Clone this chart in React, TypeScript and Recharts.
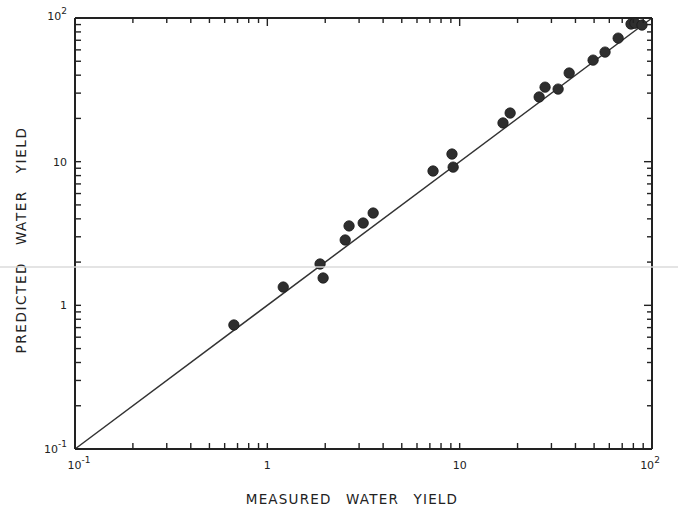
import React from 'react';
import {
  ScatterChart,
  Scatter,
  XAxis,
  YAxis,
  ReferenceLine,
} from 'recharts';

// Values
const measuredYield = [
  0.67, 1.21, 1.88, 1.95, 2.54, 2.66, 3.15, 3.55, 7.27, 9.12, 9.25,
  16.8, 18.3, 25.9, 27.8, 32.5, 37.1, 49.4, 57.0, 66.7, 77.8, 81.5, 88.7,
];
const predictedYield = [
  0.73, 1.34, 1.94, 1.55, 2.85, 3.57, 3.74, 4.39, 8.61, 11.3, 9.16,
  18.6, 21.8, 28.2, 33.0, 32.0, 41.4, 50.9, 57.9, 72.4, 90.8, 92.0, 89.3,
];

// major + minor tick positions (per decade)
const logTicks = [
  0.1, 0.2, 0.3, 0.4, 0.5, 0.6, 0.7, 0.8, 0.9,
  1, 2, 3, 4, 5, 6, 7, 8, 9,
  10, 20, 30, 40, 50, 60, 70, 80, 90,
  100,
];

const xTitle = 'MEASURED WATER YIELD';
const yTitle = 'PREDICTED WATER YIELD';

const data = measuredYield.map((m, i) => ({ x: m, y: predictedYield[i] }));

const W = 678;
const H = 509;
const MARGIN = { top: 17, right: 25, bottom: 0, left: 0 };
const LEFT_W = 75;
const BOTTOM_H = 60;
const TICK_IN = 6; // inward tick length on bottom/left

const INK = '#222';
const FONT = '"DejaVu Sans", "Liberation Sans", sans-serif';

const isDecade = (v: number) => {
  const l = Math.log10(v);
  return Math.abs(l - Math.round(l)) < 1e-6;
};

const tickLen = (v: number) => (isDecade(v) ? 8 : 5);

// decade label: 10^-1, 1, 10, 10^2
const DecadeLabel = ({ x, y, v, anchor }: any) => {
  const exp = Math.round(Math.log10(v));
  const style = { fontFamily: FONT, fontSize: 11, fill: INK };
  if (exp === 0 || exp === 1) {
    return (
      <text x={x} y={y} textAnchor={anchor} style={style}>
        {exp === 0 ? '1' : '10'}
      </text>
    );
  }
  return (
    <text x={x} y={y} textAnchor={anchor} style={style}>
      10
      <tspan dy={-6} fontSize={9}>{exp === -1 ? '-1' : '2'}</tspan>
    </text>
  );
};

// bottom axis: decade labels (tick lines come from tickLine)
const BottomTick = (props: any) => {
  const { x, y, payload } = props;
  if (!isDecade(payload.value)) return <g />;
  const lx = payload.value === 100 ? x - 2 : payload.value === 0.1 ? x + 4 : x;
  // y sits at the inner end of the inward tick
  return <DecadeLabel x={lx} y={y + TICK_IN + 20} v={payload.value} anchor="middle" />;
};

// left axis: decade labels (tick lines come from tickLine)
const LeftTick = (props: any) => {
  const { x, y, payload } = props;
  if (!isDecade(payload.value)) return <g />;
  const ly = payload.value === 100 ? y + 2 : y + 4;
  return <DecadeLabel x={x - TICK_IN - 8} y={ly} v={payload.value} anchor="end" />;
};

// top axis: inward ticks
const TopTick = (props: any) => {
  const { x, y, payload } = props;
  return <line x1={x} x2={x} y1={y} y2={y + tickLen(payload.value)} stroke={INK} strokeWidth={1.4} />;
};

// right axis: inward ticks
const RightTick = (props: any) => {
  const { x, y, payload } = props;
  return <line x1={x} x2={x - tickLen(payload.value)} y1={y} y2={y} stroke={INK} strokeWidth={1.4} />;
};

const Dot = (props: any) => {
  const { cx, cy } = props;
  return <circle cx={cx} cy={cy} r={5.2} fill="#2e2e2e" stroke="#1a1a1a" strokeWidth={0.8} />;
};

const NoDot = () => <g />;

const titleStyle = { fontFamily: FONT, fontSize: 13.5, fill: INK, letterSpacing: 1.2 };

export default function App() {
  return (
    <div style={{ position: 'absolute', left: 0, top: 0, width: W, height: H, background: '#fff' }}>
      <ScatterChart width={W} height={H} margin={MARGIN}>
        <XAxis
          xAxisId="b"
          dataKey="x"
          type="number"
          scale="log"
          domain={[0.1, 100]}
          ticks={logTicks}
          interval={0}
          tickSize={-TICK_IN}
          tickMargin={0}
          height={BOTTOM_H}
          tick={<BottomTick />}
          tickLine={{ stroke: INK, strokeWidth: 1.4 }}
          axisLine={{ stroke: INK, strokeWidth: 2 }}
        />
        <XAxis
          xAxisId="t"
          dataKey="x"
          orientation="top"
          type="number"
          scale="log"
          domain={[0.1, 100]}
          ticks={logTicks}
          interval={0}
          tickSize={0}
          tickMargin={0}
          height={1}
          tick={<TopTick />}
          axisLine={{ stroke: INK, strokeWidth: 2 }}
        />
        <YAxis
          yAxisId="l"
          dataKey="y"
          type="number"
          scale="log"
          domain={[0.1, 100]}
          ticks={logTicks}
          interval={0}
          tickSize={-TICK_IN}
          tickMargin={0}
          width={LEFT_W}
          tick={<LeftTick />}
          tickLine={{ stroke: INK, strokeWidth: 1.4 }}
          axisLine={{ stroke: INK, strokeWidth: 2 }}
        />
        <YAxis
          yAxisId="r"
          dataKey="y"
          orientation="right"
          type="number"
          scale="log"
          domain={[0.1, 100]}
          ticks={logTicks}
          interval={0}
          tickSize={0}
          tickMargin={0}
          width={1}
          tick={<RightTick />}
          axisLine={{ stroke: INK, strokeWidth: 2 }}
        />
        <ReferenceLine
          xAxisId="b"
          yAxisId="l"
          segment={[{ x: 0.1, y: 0.1 }, { x: 100, y: 100 }]}
          stroke="#333"
          strokeWidth={1.5}
        />
        {/* invisible series so the mirrored top/right axes are drawn */}
        <Scatter
          xAxisId="t"
          yAxisId="r"
          data={data}
          shape={<NoDot />}
          isAnimationActive={false}
        />
        <Scatter
          xAxisId="b"
          yAxisId="l"
          data={data}
          shape={<Dot />}
          isAnimationActive={false}
        />
      </ScatterChart>
      {/* axis titles */}
      <svg width={W} height={H} style={{ position: 'absolute', left: 0, top: 0, pointerEvents: 'none' }}>
        <text x={352} y={504} textAnchor="middle" style={{ ...titleStyle, wordSpacing: 9 }}>
          {xTitle}
        </text>
        <text
          x={21}
          y={245}
          textAnchor="middle"
          transform="rotate(-90 21 240)"
          style={{ ...titleStyle, letterSpacing: 1.6, wordSpacing: 11 }}
        >
          {yTitle}
        </text>
      </svg>
      {/* faint scan streak across the page */}
      <div style={{ position: 'absolute', left: 0, top: 266, width: W, height: 2, background: '#d8d8d8', opacity: 0.7 }} />
    </div>
  );
}
